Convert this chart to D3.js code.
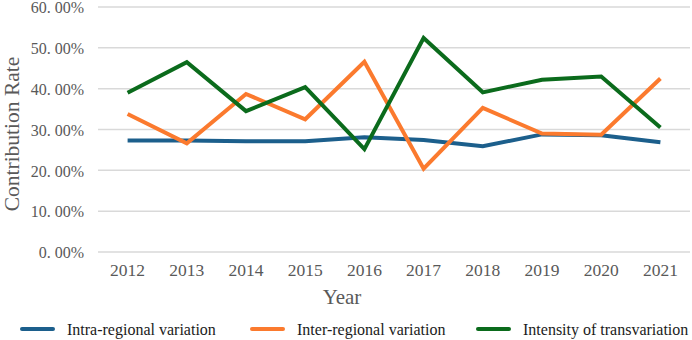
<!DOCTYPE html>
<html>
<head>
<meta charset="utf-8">
<script src="https://cdn.jsdelivr.net/npm/d3@7"></script>
<style>
  body { margin: 0; background: #fff; }
  svg { display: block; }
  text { font-family: "Liberation Serif", "DejaVu Serif", serif; }
</style>
</head>
<body>
<div id="chart"></div>
<script>
// chart data
let years = ["2012", "2013", "2014", "2015", "2016", "2017", "2018", "2019", "2020", "2021"];
let intraRegional = [27.3, 27.3, 27.1, 27.1, 28.1, 27.4, 25.9, 28.8, 28.6, 26.9];
let interRegional = [33.8, 26.6, 38.7, 32.5, 46.6, 20.4, 35.3, 29.0, 28.7, 42.5];
let transvariation = [39.0, 46.5, 34.5, 40.4, 25.2, 52.4, 39.1, 42.2, 43.0, 30.5];
let yTicks = [0, 10, 20, 30, 40, 50, 60];
let seriesNames = ["Intra-regional variation", "Inter-regional variation", "Intensity of transvariation"];

let series = [
    {name: seriesNames[0], values: intraRegional, color: "#1c5f8c"},
    {name: seriesNames[1], values: interRegional, color: "#fb7a2e"},
    {name: seriesNames[2], values: transvariation, color: "#0b6b1c"}
];

let W = 692, H = 340;
let margin = {top: 7, right: 2, bottom: 88, left: 98};
let width = W - margin.left - margin.right;
let height = H - margin.top - margin.bottom;

let svg = d3.select("#chart").append("svg")
    .attr("width", W)
    .attr("height", H);

let g = svg.append("g")
    .attr("transform", `translate(${margin.left}, ${margin.top})`);

let x = d3.scaleBand()
    .domain(years)
    .range([0, width]);

let y = d3.scaleLinear()
    .domain([0, 60])
    .range([height, 0]);

// gridlines
g.selectAll(".grid")
    .data(yTicks)
    .enter().append("line")
    .attr("class", "grid")
    .attr("x1", 0)
    .attr("x2", width)
    .attr("y1", d => y(d))
    .attr("y2", d => y(d))
    .attr("stroke", "#d9d9d9")
    .attr("stroke-width", 1.5);

// y axis
let yAxis = d3.axisLeft(y)
    .tickValues(yTicks)
    .tickSize(0)
    .tickPadding(14)
    .tickFormat(d => d3.format(".2f")(d).replace(".", ". ") + "%");

g.append("g")
    .attr("class", "y-axis")
    .call(yAxis)
    .call(a => a.select(".domain").remove())
    .selectAll("text")
    .attr("fill", "#595959")
    .attr("font-size", "16px")
    .attr("dy", "0.36em");

// x axis
let xAxis = d3.axisBottom(x).tickSize(0).tickPadding(12);

g.append("g")
    .attr("class", "x-axis")
    .attr("transform", `translate(0, ${height})`)
    .call(xAxis)
    .call(a => a.select(".domain").remove())
    .selectAll("text")
    .attr("fill", "#595959")
    .attr("font-size", "17.5px");

// lines
let line = d3.line()
    .x((d, i) => x(years[i]) + x.bandwidth() / 2)
    .y(d => y(d));

g.selectAll(".series")
    .data(series)
    .enter().append("path")
    .attr("class", "series")
    .attr("d", d => line(d.values))
    .attr("fill", "none")
    .attr("stroke", d => d.color)
    .attr("stroke-width", 4)
    .attr("stroke-linejoin", "miter");

// axis titles
svg.append("text")
    .attr("transform", `translate(19, 134) rotate(-90)`)
    .attr("text-anchor", "middle")
    .attr("font-size", "21.5px")
    .attr("fill", "#595959")
    .text("Contribution Rate");

svg.append("text")
    .attr("x", 342)
    .attr("y", 304)
    .attr("text-anchor", "middle")
    .attr("font-size", "21px")
    .attr("fill", "#595959")
    .text("Year");

// legend
let legendX = [22, 252, 478];
let legend = svg.selectAll(".legend")
    .data(series)
    .enter().append("g")
    .attr("class", "legend")
    .attr("transform", (d, i) => `translate(${legendX[i]}, 329)`);

legend.append("line")
    .attr("x1", 0)
    .attr("x2", 31)
    .attr("y1", 0)
    .attr("y2", 0)
    .attr("stroke", d => d.color)
    .attr("stroke-width", 4)
    .attr("stroke-linecap", "round");

legend.append("text")
    .attr("x", 45)
    .attr("y", 0)
    .attr("dy", "0.35em")
    .attr("font-size", "16px")
    .attr("fill", "#1a1a1a")
    .text(d => d.name);
</script>
</body>
</html>
